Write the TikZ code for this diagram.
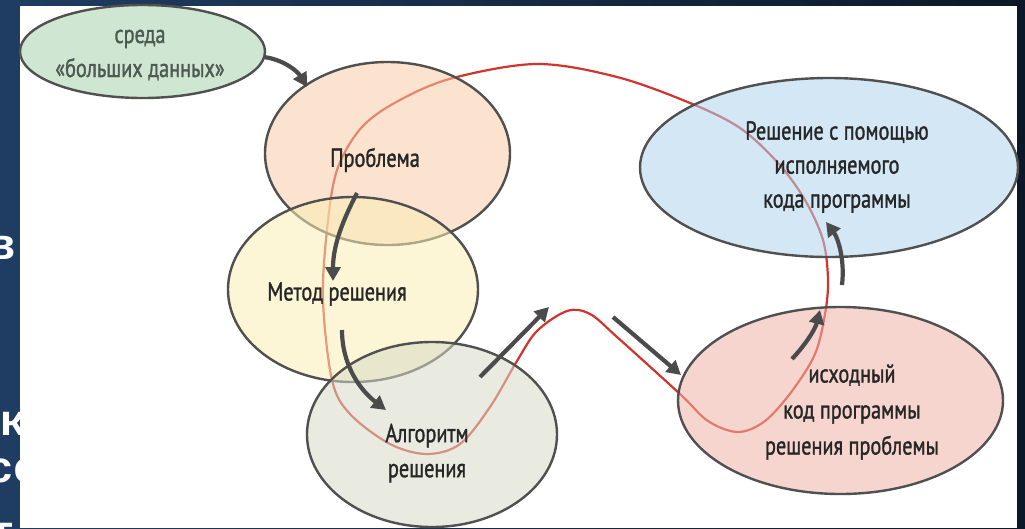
\documentclass[tikz,border=0pt]{standalone}
\usepackage{fontspec}
\setmainfont{PT Sans}[FakeStretch=0.78,FakeBold=1.2]
\newfontfamily\slidefont{Liberation Mono}
\usetikzlibrary{shapes.geometric,arrows.meta}
\definecolor{slideL}{HTML}{1F3D62}
\definecolor{slideR}{HTML}{0C1828}
\definecolor{edgegray}{HTML}{505050}
\definecolor{arrgray}{HTML}{4B4B4B}
\definecolor{flowred}{HTML}{D0342C}
\definecolor{txtdark}{HTML}{262626}
\definecolor{greenT}{HTML}{4C5A51}
\definecolor{greenF}{HTML}{CFE6D3}
\definecolor{peachF}{HTML}{F8CCA8}
\definecolor{yellowF}{HTML}{FAEFB5}
\definecolor{algoF}{HTML}{D8DCC7}
\definecolor{blueF}{HTML}{AFD5ED}
\definecolor{pinkF}{HTML}{F2B4A9}
\begin{document}
\begin{tikzpicture}[x=1pt,y=-1pt,
  ell/.style={ellipse, draw=edgegray, line width=2.4pt, inner sep=0pt, outer sep=0pt, fill opacity=0.55},
  lbl/.style={font=\fontsize{26}{34}\selectfont, text=txtdark, align=center, inner sep=0pt},
  arr/.style={draw=arrgray, line width=4.2pt, -{Triangle[length=14pt,width=15pt]}},
  flow/.style={draw=flowred, line width=2.2pt},
  slide/.style={font=\slidefont\bfseries\fontsize{44}{44}\selectfont, text=white, inner sep=0pt, anchor=base west}
]
\useasboundingbox (0,0) rectangle (1025,528);
\shade[left color=slideL, right color=slideR] (0,0) rectangle (1025,528);
\node[slide] (s1) at (-11,259) {в};
\node[slide] (s2) at (-26,435) {ик};
\node[slide] (s3) at (-13,482) {се};
\node[slide] (s4) at (-12,546) {т};
\fill[white] (20,6) rectangle (1017,528);
% flow loop
\draw[flow] plot[smooth cycle, tension=0.55] coordinates {
 (400,100) (453,78) (537,64) (617,77) (690,103) (740,128) (778,163) (805,200)
 (823,240) (828,280) (825,314) (815,354) (792,391) (765,421) (738,432) (708,421)
 (680,394) (617,337) (590,314) (567,311) (537,331) (517,361) (490,407) (460,444)
 (427,454) (390,444) (350,414) (332,380) (323,300) (327,230) (337,170) (362,127)};
% ellipses
\node[ell, fill=greenF, fill opacity=1, minimum width=245pt, minimum height=93pt] (env) at (142.5,51.5) {};
\node[ell, fill=peachF, minimum width=245pt, minimum height=183pt] (prob) at (387.5,153.5) {};
\node[ell, fill=yellowF, minimum width=250pt, minimum height=185pt] (meth) at (353,289.5) {};
\node[ell, fill=algoF, minimum width=250pt, minimum height=185pt] (algo) at (432,434.5) {};
\node[ell, fill=blueF, minimum width=378pt, minimum height=179pt] (sol) at (829,167.5) {};
\node[ell, fill=pinkF, minimum width=325pt, minimum height=187pt] (src) at (840.5,400.5) {};
% arrows
\coordinate (a1) at (264,57);  \coordinate (a2) at (307,87);
\coordinate (b1) at (357,193); \coordinate (b2) at (333,281);
\coordinate (c1) at (342,330); \coordinate (c2) at (386,410);
\coordinate (d1) at (480,377); \coordinate (d2) at (549,307);
\coordinate (e1) at (613,317); \coordinate (e2) at (681,375);
\coordinate (f1) at (792,359); \coordinate (f2) at (820,310);
\coordinate (g1) at (842,285); \coordinate (g2) at (826,222);
\draw[arr] (a1) .. controls (285,60) and (298,72) .. (a2);
\draw[arr] (b1) .. controls (343,220) and (333,245) .. (b2);
\draw[arr] (c1) .. controls (342,365) and (360,390) .. (c2);
\draw[arr] (d1) -- (d2);
\draw[arr] (e1) -- (e2);
\draw[arr] (f1) .. controls (805,345) and (815,330) .. (f2);
\draw[arr] (g1) .. controls (845,260) and (838,238) .. (g2);
% labels
\node[lbl, text=greenT] (tenv) at (140,55) {среда\\«больших данных»};
\node[lbl] (tprob) at (375,160) {Проблема};
\node[lbl] (tmeth) at (337,294) {Метод решения};
\node[lbl, font=\fontsize{26}{35}\selectfont] (talgo) at (427,453) {Алгоритм\\решения};
\node[lbl] (tsol) at (837,167) {Решение с помощью\\исполняемого\\кода программы};
\node[lbl, font=\fontsize{26}{36}\selectfont] (tsrc) at (852,412) {исходный\\код программы\\решения проблемы};
\end{tikzpicture}
\end{document}
